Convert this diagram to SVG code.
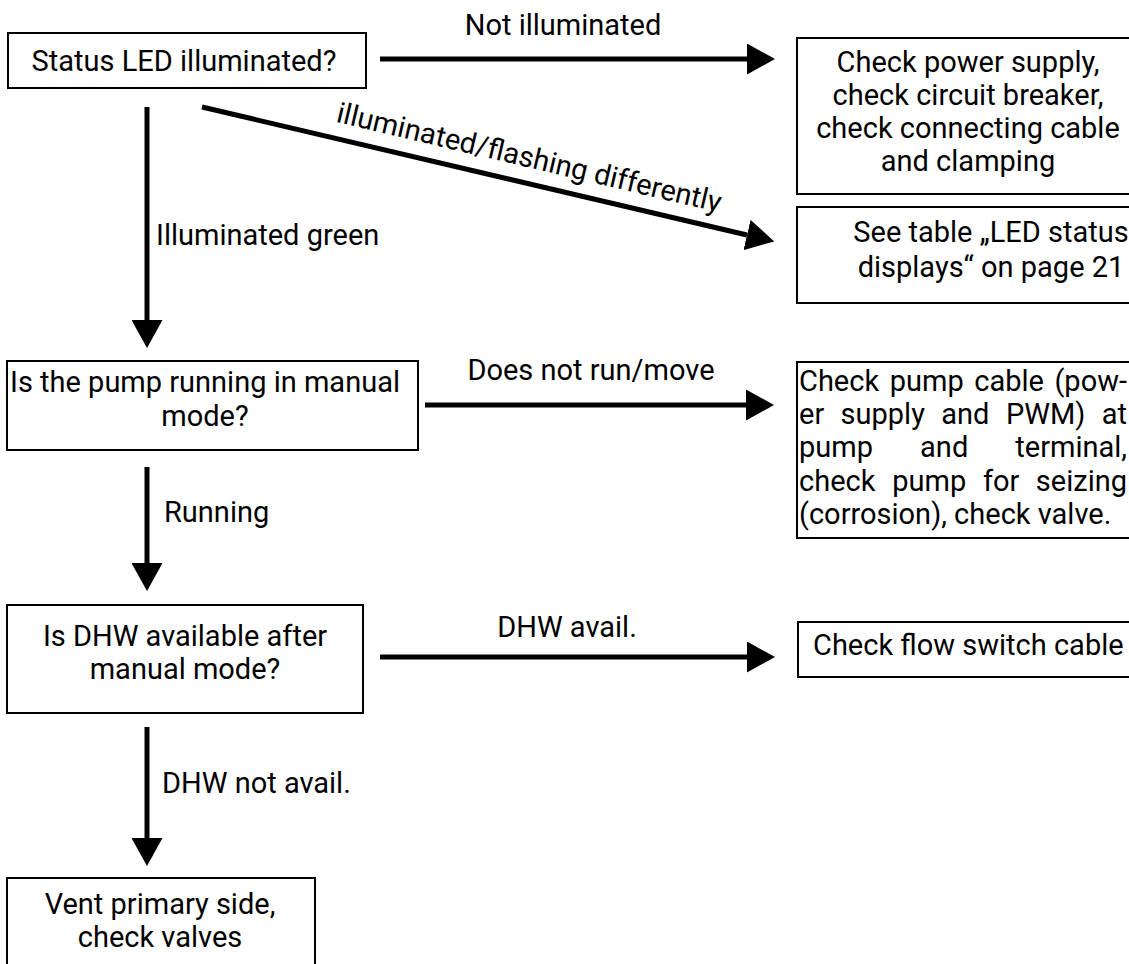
<svg xmlns="http://www.w3.org/2000/svg" width="1129" height="964" viewBox="0 0 1129 964">
<defs>
<marker id="ah" markerUnits="userSpaceOnUse" markerWidth="28" markerHeight="31" viewBox="0 0 28 31" refX="0" refY="15.5" orient="auto">
<path d="M0,0 L28,15.5 L0,31 Z" fill="#000"/>
</marker>
<style>
text{font-family:Roboto,"Liberation Sans",sans-serif;font-size:29px;fill:#000}
.c{text-anchor:middle}
.e{text-anchor:end}
.box{fill:#fff;stroke:#000;stroke-width:2}
.conn line{stroke:#000;stroke-width:5;marker-end:url(#ah)}
</style>
</defs>
<rect width="1129" height="964" fill="#fff"/>
<g class="conn" id="connectors">
<line x1="380" y1="59" x2="747" y2="59"/>
<line x1="202" y1="107" x2="747" y2="235"/>
<line x1="147" y1="107" x2="147" y2="320"/>
<line x1="425" y1="405" x2="746" y2="405"/>
<line x1="147" y1="467" x2="147" y2="563"/>
<line x1="380" y1="657" x2="747" y2="657"/>
<line x1="147" y1="727" x2="147" y2="838"/>
</g>
<g id="labels">
<text class="c" x="563" y="35">Not illuminated</text>
<text class="c" transform="translate(527,167) rotate(13.3)" x="0" y="0" font-size="27.5">illuminated/flashing differently</text>
<text x="156" y="245">Illuminated green</text>
<text class="c" x="591" y="380">Does not run/move</text>
<text x="164" y="522">Running</text>
<text class="c" x="567" y="637">DHW avail.</text>
<text x="162" y="793">DHW not avail.</text>
</g>
<g id="n1">
<rect class="box" x="8" y="33" width="358" height="55"/>
<text class="c" x="184" y="71">Status LED illuminated?</text>
</g>
<g id="n2">
<rect class="box" x="797" y="38" width="340" height="156"/>
<text class="c" x="968" y="72">Check power supply,</text>
<text class="c" x="968" y="105">check circuit breaker,</text>
<text class="c" x="968" y="138">check connecting cable</text>
<text class="c" x="968" y="171">and clamping</text>
</g>
<g id="n3">
<rect class="box" x="797" y="207" width="340" height="96"/>
<text class="c" x="991" y="242">See table „LED status</text>
<text class="c" x="991" y="277">displays“ on page 21</text>
</g>
<g id="n4">
<rect class="box" x="7" y="361" width="411" height="89"/>
<text class="c" x="205" y="392">Is the pump running in manual</text>
<text class="c" x="205" y="426">mode?</text>
</g>
<g id="n5">
<rect class="box" x="797" y="362" width="340" height="176"/>
<text y="391"><tspan x="799">Check</tspan><tspan x="889.7">pump</tspan><tspan x="974.3">cable</tspan><tspan x="1127" class="e">(pow-</tspan></text>
<text y="424"><tspan x="799">er</tspan><tspan x="840.6">supply</tspan><tspan x="941.3">and</tspan><tspan x="1005.9">PWM)</tspan><tspan x="1127" class="e">at</tspan></text>
<text y="457"><tspan x="799">pump</tspan><tspan x="920.1">and</tspan><tspan x="1127" class="e">terminal,</tspan></text>
<text y="491"><tspan x="799">check</tspan><tspan x="892.2">pump</tspan><tspan x="982.9">for</tspan><tspan x="1127" class="e">seizing</tspan></text>
<text x="799" y="524">(corrosion), check valve.</text>
</g>
<g id="n6">
<rect class="box" x="7" y="605" width="356" height="108"/>
<text class="c" x="185" y="646">Is DHW available after</text>
<text class="c" x="185" y="679">manual mode?</text>
</g>
<g id="n7">
<rect class="box" x="798" y="622" width="340" height="55"/>
<text x="813" y="655">Check flow switch cable</text>
</g>
<g id="n8">
<rect class="box" x="7" y="878" width="308" height="100"/>
<text class="c" x="160" y="914">Vent primary side,</text>
<text class="c" x="160" y="947">check valves</text>
</g>
</svg>
